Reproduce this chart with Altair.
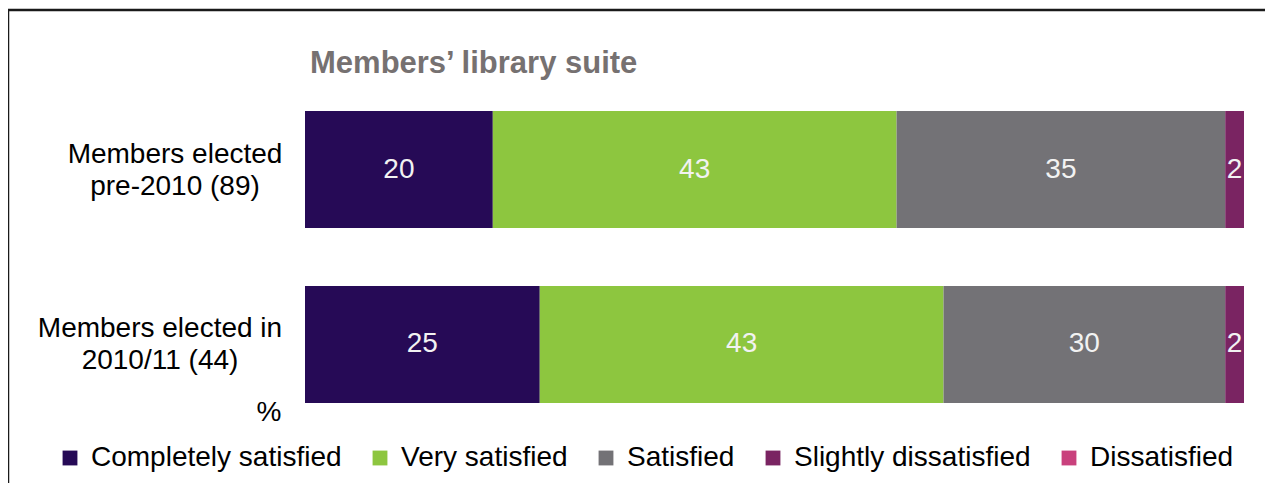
import altair as alt
import pandas as pd

groups = ["Members elected|pre-2010 (89)", "Members elected in|2010/11 (44)"]
responses = ["Completely satisfied", "Very satisfied", "Satisfied",
             "Slightly dissatisfied", "Dissatisfied"]
colors = ["#260A56", "#8DC63F", "#737276", "#7A2462", "#C9417D"]
values_pre2010 = [20, 43, 35, 2, 0]
values_2010_11 = [25, 43, 30, 2, 0]
title_text = "Members\u2019 library suite"

rows = []
for g, vals in zip(groups, [values_pre2010, values_2010_11]):
    start = 0
    for i, (r, v) in enumerate(zip(responses, vals)):
        rows.append({"group": g, "response": r, "order": i, "value": v,
                     "start": start, "end": start + v, "mid": start + v / 2})
        start += v
df = pd.DataFrame(rows)

FONT = "Liberation Sans"
FS = 28

y_scale = alt.Scale(domain=groups, paddingInner=0.331, paddingOuter=0)
y_enc = alt.Y("group:N", sort=groups, scale=y_scale, axis=None)

x_scale = alt.Scale(domain=[0, 100], nice=False, zero=True)

bars = alt.Chart(df).transform_filter("datum.value > 0").mark_bar().encode(
    x=alt.X("start:Q", scale=x_scale, axis=None),
    x2="end:Q",
    y=y_enc,
    color=alt.Color("response:N",
                    scale=alt.Scale(domain=responses, range=colors),
                    legend=alt.Legend(title=None, orient="none",
                                      direction="horizontal", columns=5,
                                      legendX=-249, legendY=333,
                                      symbolType="square", symbolSize=220,
                                      symbolStrokeWidth=0, symbolOpacity=1,
                                      labelFont=FONT, labelFontSize=FS,
                                      labelColor="black", labelOffset=7,
                                      columnPadding=24, padding=0,
                                      labelLimit=400)),
    order=alt.Order("order:Q"),
)

labels = alt.Chart(df).transform_filter("datum.value > 0").mark_text(
    font=FONT, fontSize=FS, color="#F2F2F2", align="center", baseline="middle"
).encode(
    x=alt.X("mid:Q", scale=x_scale),
    y=alt.Y("group:N", sort=groups, scale=y_scale),
    text=alt.Text("value:Q"),
)

# category labels: right-aligned block, lines centred within it
cat_df = pd.DataFrame({"group": groups})
cat_labels = alt.Chart(cat_df).transform_calculate(
    cx=f"datum.group == '{groups[0]}' ? -130 : -145"
).mark_text(
    font=FONT, fontSize=FS, color="black", align="center", baseline="middle",
    lineBreak="|", lineHeight=32, dy=-15
).encode(
    x=alt.X("cx:Q", scale=None),
    y=alt.Y("group:N", sort=groups, scale=y_scale),
    text="group:N",
)

pct = alt.Chart(pd.DataFrame({"t": ["%"]})).mark_text(
    font=FONT, fontSize=FS, color="black", align="center", baseline="middle"
).encode(x=alt.value(-36), y=alt.value(302), text="t:N")

title = alt.Chart(pd.DataFrame({"t": [title_text]})).mark_text(
    font=FONT, fontSize=31, fontWeight="bold", color="#767171",
    align="left", baseline="alphabetic"
).encode(x=alt.value(5), y=alt.value(-38), text="t:N")

border = alt.Chart(pd.DataFrame({"t": [0]})).mark_rect(
    fill=None, stroke="#1a1a1a", strokeWidth=2.5, clip=False
).encode(x=alt.value(-297), x2=alt.value(1100),
         y=alt.value(-101), y2=alt.value(600))

chart = alt.layer(border, bars, labels, cat_labels, pct, title).properties(
    width=939, height=292,
    background="white",
    autosize=alt.AutoSizeParams(type="none"),
    padding={"left": 297, "top": 103, "right": 21, "bottom": 80},
).configure_view(strokeWidth=0, stroke="transparent")

chart.save("out.html", embed_options={"renderer": "svg", "actions": False})
